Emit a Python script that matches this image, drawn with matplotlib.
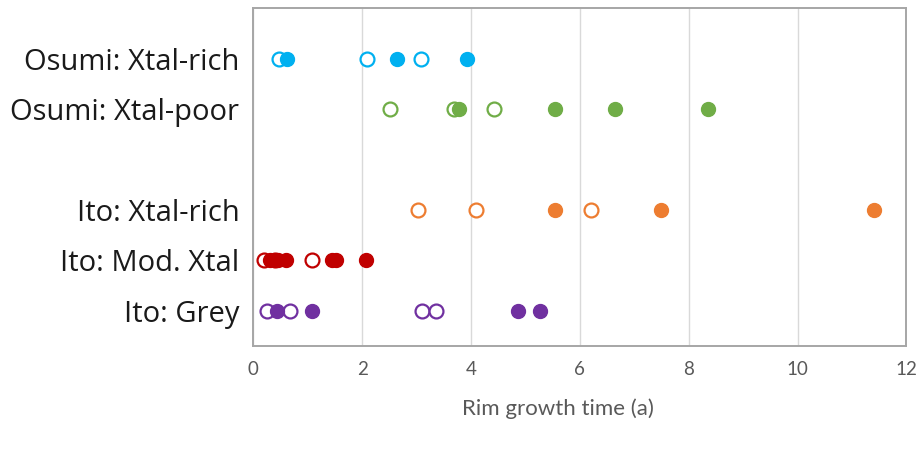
import matplotlib.pyplot as plt

# row labels, bottom to top (blank row between Ito and Osumi)
categories = ['Ito: Grey', 'Ito: Mod. Xtal', 'Ito: Xtal-rich', '', 'Osumi: Xtal-poor', 'Osumi: Xtal-rich']
row_pos = [1, 2, 3, 4, 5, 6]

# rim growth times (a): open and filled symbols per group
osumi_rich_open = [0.48, 2.10, 3.08]
osumi_rich_filled = [0.62, 2.65, 3.92]
osumi_poor_open = [2.52, 3.68, 4.43]
osumi_poor_filled = [3.78, 5.55, 6.64, 8.36]
ito_rich_open = [3.03, 4.10, 6.20]
ito_rich_filled = [5.55, 7.50, 11.40]
ito_mod_open = [0.20, 0.40, 1.08]
ito_mod_filled = [0.30, 0.45, 0.60, 1.45, 1.52, 2.08]
ito_grey_open = [0.26, 0.68, 3.10, 3.36]
ito_grey_filled = [0.44, 1.08, 4.87, 5.27]

groups = [
    (6, osumi_rich_open, osumi_rich_filled, '#00B0F0'),
    (5, osumi_poor_open, osumi_poor_filled, '#70AD47'),
    (3, ito_rich_open, ito_rich_filled, '#ED7D31'),
    (2, ito_mod_open, ito_mod_filled, '#C00000'),
    (1, ito_grey_open, ito_grey_filled, '#7030A0'),
]

fig = plt.figure(figsize=(9.24, 4.51), dpi=100)
ax = fig.add_axes([0.274, 0.233, 0.707, 0.749])

for y, xs_open, xs_fill, col in groups:
    ax.plot(xs_open, [y] * len(xs_open), 'o', ls='none', ms=10,
            mfc='white', mec=col, mew=1.6, zorder=3)
    ax.plot(xs_fill, [y] * len(xs_fill), 'o', ls='none', ms=10,
            mfc=col, mec=col, mew=1.0, zorder=4)

ax.set_xlim(0, 12)
ax.set_ylim(0.3, 7.0)
ax.set_xticks(range(0, 13, 2))
ax.set_yticks(row_pos)
ax.set_yticklabels(categories, fontsize=21, color='#1a1a1a', family='Open Sans')
ax.tick_params(axis='x', length=0, labelsize=13.5, labelcolor='#595959', pad=11)
ax.tick_params(axis='y', length=0, pad=10)
for lbl in ax.get_xticklabels():
    lbl.set_family('Lato')

ax.grid(axis='x', color='#D9D9D9', lw=1)
ax.set_axisbelow(True)
for sp in ax.spines.values():
    sp.set_color('#A6A6A6')
    sp.set_linewidth(1.4)

ax.set_xlabel('Rim growth time (a)', fontsize=16, color='#595959', family='Lato')
ax.xaxis.set_label_coords(0.467, -0.155)

plt.savefig('out.png', dpi=100)
